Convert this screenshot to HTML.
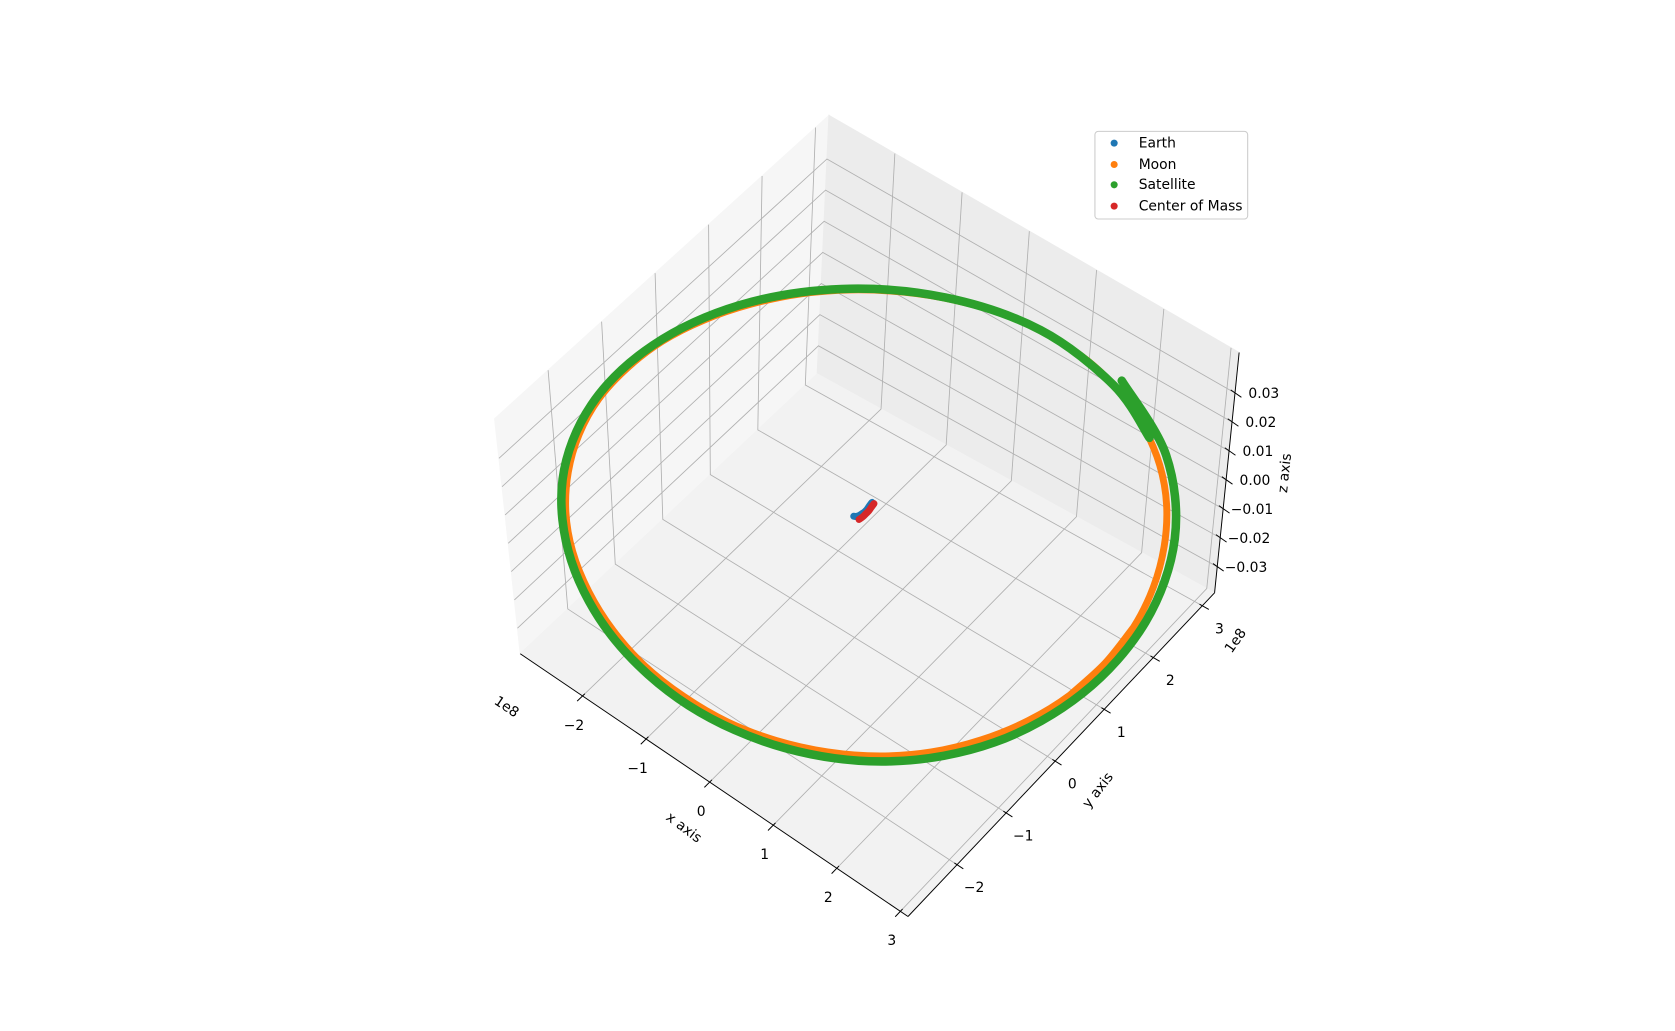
<!DOCTYPE html>
<html><head><meta charset="utf-8"><style>
html,body{margin:0;padding:0;background:#fff;}
svg{display:block;font-family:"DejaVu Sans","Liberation Sans",sans-serif;}
</style></head><body>
<svg id="chart" width="1675" height="1031" viewBox="0 0 1568 965.2" xmlns="http://www.w3.org/2000/svg">
<g id="panes"></g>
<g id="grid"></g>
<g id="axes"></g>
<g id="labels"></g>
<g id="series"></g>
<g id="legend">
  <rect x="1025" y="123" width="143" height="82" rx="3" fill="#fff" fill-opacity="0.8" stroke="#cccccc" stroke-width="1"/>
  <circle cx="1043" cy="134" r="3.3" fill="#1f77b4"/>
  <text x="1066" y="138" font-size="13">Earth</text>
  <circle cx="1043" cy="154" r="3.3" fill="#ff7f0e"/>
  <text x="1066" y="158" font-size="13">Moon</text>
  <circle cx="1043" cy="173" r="3.3" fill="#2ca02c"/>
  <text x="1066" y="177" font-size="13">Satellite</text>
  <circle cx="1043" cy="193" r="3.3" fill="#d62728"/>
  <text x="1066" y="197" font-size="13">Center of Mass</text>
</g>
</svg>
<script>
// ---- data (units: x,y in 1e8 m) ----
const xTicks = [-2, -1, 0, 1, 2, 3];
const yTicks = [-2, -1, 0, 1, 2, 3];
const zTicks = [-0.03, -0.02, -0.01, 0.00, 0.01, 0.02, 0.03];
const xTickLabels = ["\u22122", "\u22121", "0", "1", "2", "3"];
const yTickLabels = ["\u22122", "\u22121", "0", "1", "2", "3"];
const zTickLabels = ["\u22120.03", "\u22120.02", "\u22120.01", "0.00", "0.01", "0.02", "0.03"];
const moonX = [3.62,3.57,3.40,3.13,2.77,2.33,1.81,1.24,0.63,0,-0.63,-1.24,-1.81,-2.33,-2.77,-3.13,-3.40,-3.57,-3.62,-3.57,-3.40,-3.13,-2.77,-2.33,-1.81,-1.24,-0.63,0,0.63,1.24,1.81,2.33,2.77,3.13,3.40,3.57];
const moonY = [0.2,0.83,1.44,2.01,2.53,2.97,3.33,3.60,3.77,3.82,3.77,3.60,3.33,2.97,2.53,2.01,1.44,0.83,0.2,-0.43,-1.04,-1.61,-2.13,-2.57,-2.93,-3.20,-3.37,-3.42,-3.37,-3.20,-2.93,-2.57,-2.13,-1.61,-1.04,-0.43];
const satCenter = [0.0, 0.2];
const satAngleDeg = [72,52,32,12,-8,-28,-48,-68,-88,-108,-128,-148,-168,-188,-208,-228,-248,-268,-288,-303];
const satRadius = [3.74,3.73,3.73,3.72,3.71,3.71,3.70,3.69,3.69,3.68,3.67,3.67,3.66,3.65,3.65,3.64,3.63,3.63,3.62,3.62];
const earthX = [-0.11,-0.09,-0.07,-0.06,-0.05,-0.05,-0.06,-0.07];
const earthY = [0.10,0.11,0.14,0.18,0.23,0.28,0.34,0.41];
const comX = [-0.03,-0.02,-0.02,-0.02,-0.03,-0.04];
const comY = [0.10,0.16,0.22,0.28,0.34,0.41];

// ---- axis geometry ----
const XMIN=-2.98, XMAX=3.12, YMIN=-3.0, YMAX=3.25, ZMIN=-0.039, ZMAX=0.044;
const L=[487,612], F=[850,858], R=[1137,555], B=[765,350];
const VL=[-24,-220], VF=[5,-205], VR=[23,-225], VB=[11,-242];
function bil(u,v,a,b,c,d,i){return (1-u)*(1-v)*a[i]+u*(1-v)*b[i]+u*v*c[i]+(1-u)*v*d[i];}
function proj(x,y,z){
  const u=(x-XMIN)/(XMAX-XMIN), v=(y-YMIN)/(YMAX-YMIN), w=(z-ZMIN)/(ZMAX-ZMIN);
  return [bil(u,v,L,F,R,B,0)+w*bil(u,v,VL,VF,VR,VB,0), bil(u,v,L,F,R,B,1)+w*bil(u,v,VL,VF,VR,VB,1)];
}
const NS="http://www.w3.org/2000/svg";
function mk(tag,attrs,parent){const e=document.createElementNS(NS,tag);for(const k in attrs)e.setAttribute(k,attrs[k]);parent.appendChild(e);return e;}
function pts(a){return a.map(p=>p[0].toFixed(2)+","+p[1].toFixed(2)).join(" ");}

const panes=document.getElementById('panes'), grid=document.getElementById('grid'),
      axes=document.getElementById('axes'), labels=document.getElementById('labels'),
      series=document.getElementById('series');

let e;
e=mk('polygon',{points:pts([proj(XMIN,YMIN,ZMIN),proj(XMIN,YMAX,ZMIN),proj(XMIN,YMAX,ZMAX),proj(XMIN,YMIN,ZMAX)]),fill:'#f6f6f6',stroke:'#f6f6f6'},panes);


e=mk('polygon',{points:pts([proj(XMIN,YMAX,ZMIN),proj(XMAX,YMAX,ZMIN),proj(XMAX,YMAX,ZMAX),proj(XMIN,YMAX,ZMAX)]),fill:'#ececec',stroke:'#ececec'},panes);


e=mk('polygon',{points:pts([proj(XMIN,YMIN,ZMIN),proj(XMAX,YMIN,ZMIN),proj(XMAX,YMAX,ZMIN),proj(XMIN,YMAX,ZMIN)]),fill:'#f2f2f2',stroke:'#f2f2f2'},panes);



const gs={stroke:'#b0b0b0','stroke-width':0.8,fill:'none'};
xTicks.forEach(t=>{
  let g=mk('polyline',Object.assign({points:pts([proj(t,YMIN,ZMIN),proj(t,YMAX,ZMIN),proj(t,YMAX,ZMAX)])},gs),grid);
  
  
});
yTicks.forEach(t=>{
  let g=mk('polyline',Object.assign({points:pts([proj(XMAX,t,ZMIN),proj(XMIN,t,ZMIN),proj(XMIN,t,ZMAX)])},gs),grid);
  
  
});
zTicks.forEach(t=>{
  let g=mk('polyline',Object.assign({points:pts([proj(XMIN,YMIN,t),proj(XMIN,YMAX,t),proj(XMAX,YMAX,t)])},gs),grid);
  
  
});

const as={stroke:'#000','stroke-width':0.9,fill:'none'};
e=mk('polyline',Object.assign({points:pts([proj(XMIN,YMIN,ZMIN),proj(XMAX,YMIN,ZMIN)])},as),axes);


e=mk('polyline',Object.assign({points:pts([proj(XMAX,YMIN,ZMIN),proj(XMAX,YMAX,ZMIN)])},as),axes);


e=mk('polyline',Object.assign({points:pts([proj(XMAX,YMAX,ZMIN),proj(XMAX,YMAX,ZMAX)])},as),axes);



function unit(a,b){const dx=b[0]-a[0],dy=b[1]-a[1],l=Math.hypot(dx,dy);return [dx/l,dy/l];}
function txt(s,x,y,rot,size,anchor){
  const t=mk('text',{x:x,y:y,'font-size':size,'text-anchor':anchor||'middle','dominant-baseline':'central',transform:rot?`rotate(${rot} ${x} ${y})`:''},labels);
  t.textContent=s;return t;
}
xTicks.forEach((t,i)=>{
  const p=proj(t,YMIN,ZMIN), d=unit(proj(t,YMIN+1,ZMIN),p);
  let k=mk('line',{x1:p[0]-3*d[0],y1:p[1]-3*d[1],x2:p[0]+7*d[0],y2:p[1]+7*d[1],stroke:'#000','stroke-width':0.9},axes);
  
  
  let l=txt(xTickLabels[i],p[0]-8,p[1]+28,0,13);
  
  
});
yTicks.forEach((t,i)=>{
  const p=proj(XMAX,t,ZMIN), d=unit(proj(XMAX-1,t,ZMIN),p);
  let k=mk('line',{x1:p[0]-3*d[0],y1:p[1]-3*d[1],x2:p[0]+7*d[0],y2:p[1]+7*d[1],stroke:'#000','stroke-width':0.9},axes);
  
  
  let l=txt(yTickLabels[i],p[0]+16,p[1]+22,0,13);
  
  
});
zTicks.forEach((t,i)=>{
  const p=proj(XMAX,YMAX,t);
  let k=mk('line',{x1:p[0]-4,y1:p[1]-3,x2:p[0]+6,y2:p[1]+4,stroke:'#000','stroke-width':0.9},axes);
  
  
  let l=txt(zTickLabels[i],p[0]+27,p[1]+1,0,13);
  
  
});
e=txt('x axis',640,775,37,13);


e=txt('y axis',1028,740,-52,13);


e=txt('z axis',1203,443,-84,13);


e=txt('1e8',474,662,34,13);


e=txt('1e8',1157,600,-55,13);



function smooth(P){
  let d='M'+P[0][0].toFixed(2)+','+P[0][1].toFixed(2);
  for(let i=0;i<P.length-1;i++){
    const p0=P[Math.max(0,i-1)],p1=P[i],p2=P[i+1],p3=P[Math.min(P.length-1,i+2)];
    const c1=[p1[0]+(p2[0]-p0[0])/6,p1[1]+(p2[1]-p0[1])/6], c2=[p2[0]-(p3[0]-p1[0])/6,p2[1]-(p3[1]-p1[1])/6];
    d+=`C${c1[0].toFixed(2)},${c1[1].toFixed(2)} ${c2[0].toFixed(2)},${c2[1].toFixed(2)} ${p2[0].toFixed(2)},${p2[1].toFixed(2)}`;
  }
  return d;
}

const earthP=earthX.map((x,i)=>proj(x,earthY[i],0));
e=mk('path',{d:smooth(earthP),stroke:'#1f77b4','stroke-width':6.5,fill:'none','stroke-linecap':'round','stroke-linejoin':'round'},series);


const moonP=moonX.map((x,i)=>proj(x,moonY[i],0));
const moonLoop=[moonP[moonP.length-1]].concat(moonP,[moonP[0],moonP[1]]);
e=mk('path',{d:smooth(moonLoop),stroke:'#ff7f0e','stroke-width':6.5,fill:'none','stroke-linecap':'round'},series);


const satP=satAngleDeg.map((a,i)=>proj(satCenter[0]+satRadius[i]*Math.cos(a*Math.PI/180),satCenter[1]+satRadius[i]*Math.sin(a*Math.PI/180),0));
e=mk('path',{d:smooth(satP),stroke:'#2ca02c','stroke-width':8,fill:'none','stroke-linecap':'round','stroke-linejoin':'round'},series);


const comP=comX.map((x,i)=>proj(x,comY[i],0));
e=mk('path',{d:smooth(comP),stroke:'#d62728','stroke-width':6.5,fill:'none','stroke-linecap':'round','stroke-linejoin':'round'},series);


</script>
</body></html>
